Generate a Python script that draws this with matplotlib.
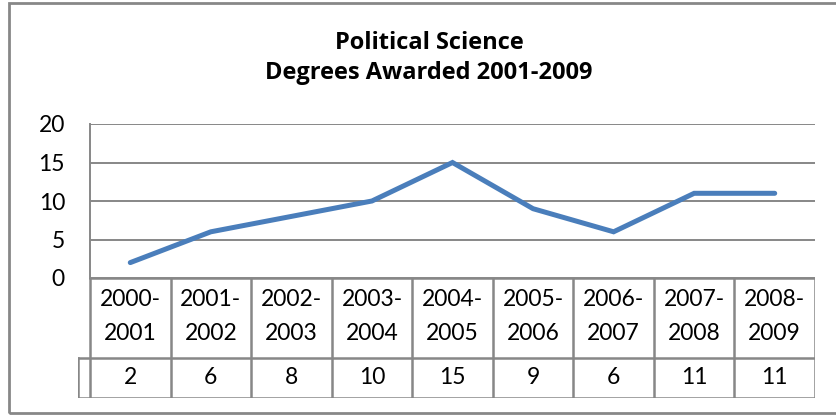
import matplotlib
matplotlib.use('Agg')
import matplotlib.pyplot as plt
from matplotlib.patches import Rectangle

# data
years = ["2000-\n2001", "2001-\n2002", "2002-\n2003", "2003-\n2004", "2004-\n2005",
         "2005-\n2006", "2006-\n2007", "2007-\n2008", "2008-\n2009"]
degrees = [2, 6, 8, 10, 15, 9, 6, 11, 11]
yticks = [0, 5, 10, 15, 20]
title = ["Political Science", "Degrees Awarded 2001-2009"]

W, H = 836, 418
plt.rcParams['font.family'] = ['Lato', 'DejaVu Sans']
fig = plt.figure(figsize=(W / 100, H / 100), dpi=100)

def fx(px):
    return px / W

def fy(py):
    return 1 - py / H

grey = "#878787"
blue = "#4A7EBB"
fs = 16.5

# outer chart border
fig.patches.append(Rectangle((fx(9), fy(413)), fx(900) - fx(9), fy(3) - fy(413),
                             transform=fig.transFigure, fill=False,
                             edgecolor=grey, linewidth=2))

left, right, top, bottom = 90, 815, 124, 278
ax = fig.add_axes([fx(left), fy(bottom), fx(right) - fx(left), fy(top) - fy(bottom)])
n = len(years)
x = list(range(n))
ax.plot(x, degrees, color=blue, linewidth=3.6, solid_capstyle='round',
        solid_joinstyle='miter')
ax.set_xlim(-0.5, n - 0.5)
ax.set_ylim(0, 20)
ax.set_yticks(yticks)
ax.set_xticks([])
for t in yticks:
    ax.axhline(t, color=grey, linewidth=1.4, zorder=0)
for s in ["top", "right", "bottom"]:
    ax.spines[s].set_visible(False)
ax.spines["left"].set_color(grey)
ax.spines["left"].set_linewidth(1.4)
ax.tick_params(axis='y', length=0, pad=18, labelsize=fs)

# data table below the plot (1 unit = 1 px vertically)
tab = fig.add_axes([fx(78), fy(398), fx(right) - fx(78), fy(bottom) - fy(398)])
tab.set_xlim(-0.5 - (left - 78) / ((right - left) / n), n - 0.5)
tab.set_ylim(0, 120)
tab.axis('off')
lw = 1.8
x0 = tab.get_xlim()[0]
tab.plot([-0.5, n - 0.5], [120, 120], color=grey, lw=lw)
tab.plot([x0, n - 0.5], [40, 40], color=grey, lw=lw)
tab.plot([x0, n - 0.5], [0, 0], color=grey, lw=lw)
for i in range(n + 1):
    tab.plot([i - 0.5, i - 0.5], [0, 120], color=grey, lw=lw)
tab.plot([x0, x0], [0, 40], color=grey, lw=lw)
for i, (lab, v) in enumerate(zip(years, degrees)):
    top_line, bot_line = lab.split("\n")
    tab.text(i, 98, top_line, ha='center', va='center', fontsize=fs)
    tab.text(i, 64, bot_line, ha='center', va='center', fontsize=fs)
    tab.text(i, 20, str(v), ha='center', va='center', fontsize=fs)

for line, py in zip(title, [49, 79]):
    fig.text(fx(429), fy(py), line, ha='center', va='baseline', fontsize=17,
             fontweight='bold', family=['Open Sans', 'DejaVu Sans'])

fig.savefig("out.png", dpi=100)
plt.close(fig)
